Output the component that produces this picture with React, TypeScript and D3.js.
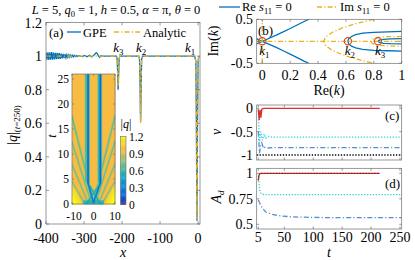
import React from "react";
import * as d3 from "d3";

const FONT = "'Liberation Serif', 'Times New Roman', serif";
const BLUE = "#0072BD";
const ORANGE = "#EDB120";
const MARK = "#D95319";
const RED = "#d7302f";
const CYAN = "#35cfe3";
const STEEL = "#4f8fd6";
const AXC = "#6e6e6e";

// ---------- Panel (a): |q| at t = 250 ----------
const gpeOscStart = -400;
const gpeOscStep = 2.5;
const gpeOscValues = [1.021, 0.978, 1.023, 0.977, 1.022, 0.978, 1.024, 0.979, 1.021, 0.98, 1.02, 0.981, 1.019, 0.983, 1.017, 0.984, 1.015, 0.986, 1.013, 0.988, 1.011, 0.99, 1.009, 0.992, 1.007, 0.994, 1.006, 0.995, 1.005, 0.996, 1.004, 0.997, 1.003, 0.998, 1.002];
const gpeTailX = [-312, -305, -298, -292, -286, -280, -275, -271, -268, -265, -262, -259, -256, -250, -215, -213, -212, -211, -210.3, -209.5, -208.5, -207.5, -206, -156, -154, -152.8, -151.8, -151.2, -150.6, -149.6, -148.4, -146, -9, -6, -4.5, -3.5, -3, -2.5, -1.5, 0, 2];
const gpeTailY = [1.001, 0.997, 1.004, 0.996, 1.005, 0.995, 1.004, 1.012, 1.02, 1.015, 1.0, 0.993, 1.002, 1.0, 1.0, 0.985, 0.93, 0.85, 0.8, 0.85, 0.93, 0.985, 1.0, 1.0, 0.98, 0.86, 0.68, 0.61, 0.68, 0.86, 0.98, 1.0, 1.0, 0.97, 0.6, 0.15, 0.02, 0.15, 0.6, 0.97, 1.0];
const anaX = [-400, -215, -213, -212, -211, -210.3, -209.5, -208.5, -207.5, -206, -156, -154, -152.8, -151.8, -151.2, -150.6, -149.6, -148.4, -146, -9, -6, -4.5, -3.5, -3, -2.5, -1.5, 0, 2];
const anaY = [1, 1, 0.985, 0.94, 0.86, 0.82, 0.86, 0.94, 0.985, 1, 1, 0.98, 0.86, 0.68, 0.6, 0.68, 0.86, 0.98, 1, 1, 0.97, 0.6, 0.15, 0.03, 0.15, 0.6, 0.97, 1];
const aXTicks = [-400, -300, -200, -100, 0];
const aYTicks = [0, 0.2, 0.4, 0.6, 0.8, 1, 1.2];
const kNamesA = ["3", "2", "1"];
const kPosA = [-210, -150, -21];

// ---------- Inset heatmap ----------
const insetXTicks = [-10, 0, 10];
const insetTTicks = [0, 5, 10, 15, 20, 25];
const cbTicks = [0, 0.3, 0.6, 0.9, 1.2];
// ridges of the density: [x0, t0, x1, t1, |q| min, half width px]
const hmRays = [
  [-2.5, 4.2, -2.5, 26, 0.1, 1.3],
  [-3.45, 4.6, -3.45, 26, 0.55, 1.1],
  [3.2, 4.2, 3.2, 26, 0.1, 1.3],
  [2.4, 4.6, 2.4, 26, 0.55, 1.1],
  [0, 0.4, -2.5, 4.2, 0.2, 1.2],
  [0, 0.4, 3.2, 4.2, 0.2, 1.2],
  [-3.4, 0, 3.2, 4.2, 0.45, 1.0],
  [3.4, 0, -2.5, 4.2, 0.45, 1.0],
  [0.2, 0, -10, 17.6, 0.66, 1.0],
  [-0.8, 0, -10, 12.5, 0.68, 0.9],
  [-2.2, 0, -10, 8, 0.7, 0.9],
  [-3.8, 0, -10, 4.5, 0.72, 0.9],
  [-0.2, 0, 10, 17.6, 0.66, 1.0],
  [0.8, 0, 10, 12.5, 0.68, 0.9],
  [2.2, 0, 10, 8, 0.7, 0.9],
  [3.8, 0, 10, 4.5, 0.72, 0.9],
];
const parulaStops = [
  [0, "#352a87"], [0.125, "#0f5cdd"], [0.25, "#1481d6"], [0.375, "#06a4ca"],
  [0.5, "#2eb7a4"], [0.625, "#87bf77"], [0.75, "#d1bb59"], [0.82, "#fbbb3d"],
  [0.89, "#f7cf2f"], [0.95, "#f3e324"], [1, "#f9fb0e"],
];

// ---------- Panel (b): spectrum ----------
const bXTicks = [0, 0.2, 0.4, 0.6, 0.8, 1];
const bYTicks = [-0.5, 0, 0.5];
const blueK1Re = [0, 0.05, 0.1, 0.15, 0.2, 0.25, 0.3, 0.34];
const blueK1Im = [0, 0.07, 0.14, 0.215, 0.29, 0.37, 0.45, 0.51];
const blueK1LeftRe = [-0.045, 0];
const blueK1LeftIm = [0.065, 0];
const blueK2Re = [0.614, 0.62, 0.64, 0.67, 0.72, 0.8, 0.9, 1.0];
const blueK2Im = [0, 0.06, 0.11, 0.15, 0.185, 0.205, 0.215, 0.225];
const blueK3Re = [0.83, 0.84, 0.87, 0.92, 1.0];
const blueK3Im = [0, 0.025, 0.045, 0.055, 0.06];
const orParRe = [0.8, 0.67, 0.57, 0.5, 0.455, 0.44, 0.455, 0.5, 0.57, 0.67, 0.8];
const orParIm = [0.5, 0.4, 0.3, 0.2, 0.1, 0, -0.1, -0.2, -0.3, -0.4, -0.5];
const orLoopRe = [1.0, 0.9, 0.83, 0.8, 0.785, 0.78, 0.785, 0.8, 0.83, 0.9, 1.0];
const orLoopIm = [0.11, 0.105, 0.09, 0.065, 0.035, 0, -0.035, -0.065, -0.09, -0.105, -0.11];
const kRe = [0, 0.614, 0.83];
const kNamesB = ["1", "2", "3"];

// ---------- Panels (c), (d) ----------
const tTicks = [5, 50, 100, 150, 200, 250];
const cYTicks = [-1, -0.5, 0];
const dYTicks = [0.5, 0.75, 1];
const vRedT = [5, 6.5, 8, 9.5, 11, 14, 215];
const vRedV = [-0.02, -0.25, -0.03, -0.2, -0.02, 0, 0];
const vCyanT = [5, 7, 9, 12, 15, 18, 22, 30, 40, 253];
const vCyanV = [-0.05, -0.75, -0.5, -0.68, -0.55, -0.64, -0.6, -0.62, -0.615, -0.615];
const vBlueT = [5, 7, 9, 11, 14, 17, 22, 30, 253];
const vBlueV = [-0.5, -0.96, -0.8, -0.74, -0.86, -0.83, -0.85, -0.84, -0.84];
const vBlackT = [2.2, 253];
const vBlackV = [-1, -1];
const aRedT = [5, 6, 8, 215];
const aRedA = [0.93, 0.98, 1, 1];
const aCyanT = [5, 6, 7, 8, 10, 12, 15, 20, 253];
const aCyanA = [0.98, 0.92, 0.86, 0.82, 0.8, 0.795, 0.792, 0.79, 0.79];
const aBlueT = [5, 8, 12, 18, 28, 40, 58, 80, 120, 253];
const aBlueA = [0.74, 0.7, 0.66, 0.62, 0.598, 0.585, 0.575, 0.57, 0.566, 0.565];

const parulaScale = d3
  .scaleLinear<string>()
  .domain(parulaStops.map((s) => s[0] as number))
  .range(parulaStops.map((s) => s[1] as string))
  .interpolate(d3.interpolateRgb)
  .clamp(true);
const parula = (v: number) => parulaScale(v / 1.2);

function zip(a: number[], b: number[]) {
  return a.map((v, i) => [v, b[i]] as [number, number]);
}

function Frame({ x, y, xt, yt, tl = 2.5 }: any) {
  const [L, R] = x.range();
  const [B, T] = y.range();
  return (
    <g stroke={AXC} strokeWidth={0.7} fill="none">
      <rect x={L} y={T} width={R - L} height={B - T} />
      {xt.map((v: number) => (
        <g key={"x" + v}>
          <line x1={x(v)} x2={x(v)} y1={B} y2={B - tl} />
          <line x1={x(v)} x2={x(v)} y1={T} y2={T + tl} />
        </g>
      ))}
      {yt.map((v: number) => (
        <g key={"y" + v}>
          <line x1={L} x2={L + tl} y1={y(v)} y2={y(v)} />
          <line x1={R} x2={R - tl} y1={y(v)} y2={y(v)} />
        </g>
      ))}
    </g>
  );
}

const fmt = (v: number) => String(v);

function K({ x, y, n, size = 13 }: any) {
  return (
    <text x={x} y={y} textAnchor="middle" fontSize={size} fill="#000">
      <tspan fontStyle="italic">k</tspan>
      <tspan dy={3} fontSize={size * 0.68}>{n}</tspan>
    </text>
  );
}

export default function App() {
  // panel (a)
  const ax = d3.scaleLinear().domain([-400, 5]).range([46, 200]);
  const ay = d3.scaleLinear().domain([0, 1.2]).range([224, 22.5]);
  const gpeX = gpeOscValues.map((_, i) => gpeOscStart + i * gpeOscStep).concat(gpeTailX);
  const gpeY = gpeOscValues.concat(gpeTailY);
  const lineA = d3.line<[number, number]>().x((d) => ax(d[0])).y((d) => ay(d[1]));

  // inset
  const hx = d3.scaleLinear().domain([-10, 10]).range([72, 115]);
  const ht = d3.scaleLinear().domain([0, 26]).range([204, 74]);
  const NX = 86, NT = 130;
  const pxX = 43 / 20, pxT = 130 / 26;
  const field = (x: number, t: number) => {
    let base = 0.98;
    const axb = Math.abs(x);
    if (t < 0.8 && axb < 5) base = 0.6;
    if (axb > 5 && t < (axb - 5) * 0.9) base = Math.min(1.2, 1.08 + 0.04 * ((axb - 5) * 0.9 - t));
    let v = base;
    for (const r of hmRays) {
      const [x0, t0, x1, t1, m, w] = r;
      const X0 = x0 * pxX, T0 = t0 * pxT, X1 = x1 * pxX, T1 = t1 * pxT;
      const px = x * pxX, pt = t * pxT;
      const dx = X1 - X0, dt = T1 - T0;
      let s = ((px - X0) * dx + (pt - T0) * dt) / (dx * dx + dt * dt);
      s = Math.max(0, Math.min(1, s));
      const d = Math.hypot(px - (X0 + s * dx), pt - (T0 + s * dt));
      const val = base - (base - m) * Math.exp(-(d / w) * (d / w));
      if (val < v) v = val;
    }
    return v;
  };
  const cells: any[] = [];
  for (let i = 0; i < NX; i++) {
    const xa = -10 + (i * 20) / NX, xb = -10 + ((i + 1) * 20) / NX;
    for (let j = 0; j < NT; j++) {
      const ta = (j * 26) / NT, tb = ((j + 1) * 26) / NT;
      cells.push({ xa, xb, ta, tb, v: field((xa + xb) / 2, (ta + tb) / 2) });
    }
  }
  const cbY = d3.scaleLinear().domain([0, 1.2]).range([204.5, 136.5]);
  const cbSteps = d3.range(0, 1.2, 0.02);

  // panel (b)
  const bx = d3.scaleLinear().domain([-0.04, 1]).range([256.7, 401.7]);
  const by = d3.scaleLinear().domain([-0.5, 0.5]).range([63.3, 19.3]);
  const lineB = d3.line<[number, number]>().x((d) => bx(d[0])).y((d) => by(d[1]));
  const neg = (a: number[]) => a.map((v) => -v);

  // panels (c),(d)
  const tx = d3.scaleLinear().domain([2.2, 253]).range([256.7, 401.7]);
  const cy = d3.scaleLinear().domain([-1.107, 0.071]).range([160, 105]);
  const dy = d3.scaleLinear().domain([0.454, 1.049]).range([229, 168.3]);
  const lineC = d3.line<[number, number]>().x((d) => tx(d[0])).y((d) => cy(d[1]));
  const lineD = d3.line<[number, number]>().x((d) => tx(d[0])).y((d) => dy(d[1]));

  const DASHDOT = "5,2.2,1.2,2.2";
  const DOT = "1.3,1.6";

  return (
    <svg width={415} height={260} style={{ position: "absolute", left: 0, top: 0, background: "#fff" }} fontFamily={FONT}>
      <defs>
        <clipPath id="ca"><rect x={46} y={22.5} width={154} height={201.5} /></clipPath>
        <clipPath id="cb"><rect x={256.7} y={19.3} width={145} height={44} /></clipPath>
        <clipPath id="cc"><rect x={256.7} y={105} width={145} height={55} /></clipPath>
        <clipPath id="cd"><rect x={256.7} y={168.3} width={145} height={60.7} /></clipPath>
      </defs>

      {/* Title */}
      <text x={116} y={14} textAnchor="middle" fontSize={12.5}>
        <tspan fontStyle="italic">L</tspan> = 5, <tspan fontStyle="italic">q</tspan>
        <tspan dy={3} fontSize={8.5}>0</tspan>
        <tspan dy={-3}> = 1, </tspan>
        <tspan fontStyle="italic">h</tspan> = 0.5, <tspan fontStyle="italic">α</tspan> = π, <tspan fontStyle="italic">θ</tspan> = 0
      </text>

      {/* ===== Panel (a) ===== */}
      <g clipPath="url(#ca)">
        <path d={lineA(zip(gpeX, gpeY)) || ""} fill="none" stroke={BLUE} strokeWidth={1.3} />
        <path d={lineA(zip(anaX, anaY)) || ""} fill="none" stroke={ORANGE} strokeWidth={1.3} strokeDasharray={DASHDOT} />
      </g>
      <Frame x={ax} y={ay} xt={aXTicks} yt={aYTicks} tl={3} />
      {aXTicks.map((v) => (
        <text key={v} x={ax(v)} y={243} textAnchor="middle" fontSize={14}>{fmt(v)}</text>
      ))}
      {aYTicks.map((v) => (
        <text key={v} x={42} y={ay(v) + 5} textAnchor="end" fontSize={14}>{fmt(v)}</text>
      ))}
      <text x={123} y={257} textAnchor="middle" fontSize={14} fontStyle="italic">x</text>
      <text transform="translate(17,125) rotate(-90)" textAnchor="middle" fontSize={14}>
        |<tspan fontStyle="italic">q</tspan>|<tspan dy={3} fontSize={9}>(<tspan fontStyle="italic">t</tspan>=250)</tspan>
      </text>
      <text x={49} y={37} fontSize={13}>(a)</text>
      <line x1={67} x2={81} y1={32} y2={32} stroke={BLUE} strokeWidth={1.3} />
      <text x={83} y={36.5} fontSize={12.5}>GPE</text>
      <line x1={114} x2={141} y1={32} y2={32} stroke={ORANGE} strokeWidth={1.3} strokeDasharray={DASHDOT} />
      <text x={143} y={36.5} fontSize={12.5}>Analytic</text>
      {kPosA.map((v, i) => (
        <K key={i} x={ax(v)} y={52} n={kNamesA[i]} />
      ))}

      {/* ===== Inset ===== */}
      <g>
        {cells.map((c, i) => (
          <rect key={i} x={hx(c.xa)} y={ht(c.tb)} width={hx(c.xb) - hx(c.xa) + 0.35} height={ht(c.ta) - ht(c.tb) + 0.35} fill={parula(c.v)} />
        ))}
      </g>
      <Frame x={hx} y={ht} xt={insetXTicks} yt={insetTTicks} tl={1.8} />
      {insetTTicks.map((v) => (
        <text key={v} x={69} y={ht(v) + 3.5} textAnchor="end" fontSize={11.5}>{fmt(v)}</text>
      ))}
      {insetXTicks.map((v) => (
        <text key={v} x={hx(v) + (v < 0 ? 2 : 0)} y={220} textAnchor="middle" fontSize={11.5}>{fmt(v)}</text>
      ))}
      <text transform="translate(56,136) rotate(-90)" textAnchor="middle" fontSize={12} fontStyle="italic">t</text>
      {cbSteps.map((v, i) => (
        <rect key={i} x={120.5} y={cbY(v + 0.02)} width={5.5} height={cbY(v) - cbY(v + 0.02) + 0.3} fill={parula(v + 0.01)} />
      ))}
      <rect x={120.5} y={136.5} width={5.5} height={68} fill="none" stroke={AXC} strokeWidth={0.6} />
      {cbTicks.map((v) => (
        <text key={v} x={129} y={cbY(v) + 4} fontSize={11.5}>{fmt(v)}</text>
      ))}
      <text x={126} y={128} textAnchor="middle" fontSize={12}>
        |<tspan fontStyle="italic">q</tspan>|
      </text>

      {/* ===== Panel (b) ===== */}
      <line x1={219} x2={240} y1={7} y2={7} stroke={BLUE} strokeWidth={1.3} />
      <text x={242} y={11} fontSize={12.5}>
        Re <tspan fontStyle="italic">s</tspan><tspan dy={3} fontSize={8.5}>11</tspan><tspan dy={-3}> = 0</tspan>
      </text>
      <line x1={317} x2={338} y1={7} y2={7} stroke={ORANGE} strokeWidth={1.3} strokeDasharray={DASHDOT} />
      <text x={340} y={11} fontSize={12.5}>
        Im <tspan fontStyle="italic">s</tspan><tspan dy={3} fontSize={8.5}>11</tspan><tspan dy={-3}> = 0</tspan>
      </text>
      <g clipPath="url(#cb)" fill="none" strokeWidth={1.3}>
        <path d={lineB(zip(blueK1Re, blueK1Im)) || ""} stroke={BLUE} />
        <path d={lineB(zip(blueK1Re, neg(blueK1Im))) || ""} stroke={BLUE} />
        <path d={lineB(zip(blueK1LeftRe, blueK1LeftIm)) || ""} stroke={BLUE} />
        <path d={lineB(zip(blueK1LeftRe, neg(blueK1LeftIm))) || ""} stroke={BLUE} />
        <path d={lineB(zip(blueK2Re, blueK2Im)) || ""} stroke={BLUE} />
        <path d={lineB(zip(blueK2Re, neg(blueK2Im))) || ""} stroke={BLUE} />
        <path d={lineB(zip(blueK3Re, blueK3Im)) || ""} stroke={BLUE} />
        <path d={lineB(zip(blueK3Re, neg(blueK3Im))) || ""} stroke={BLUE} />
        <path d={lineB([[-0.04, 0], [1, 0]]) || ""} stroke={ORANGE} strokeDasharray={DASHDOT} />
        <path d={lineB([[0, -0.5], [0, 0.5]]) || ""} stroke={ORANGE} strokeDasharray={DASHDOT} />
        <path d={lineB(zip(orParRe, orParIm)) || ""} stroke={ORANGE} strokeDasharray={DASHDOT} />
        <path d={lineB(zip(orLoopRe, orLoopIm)) || ""} stroke={ORANGE} strokeDasharray={DASHDOT} />
        {kRe.map((v, i) => (
          <circle key={i} cx={bx(v)} cy={by(0)} r={3.6} stroke={MARK} strokeWidth={1.2} />
        ))}
      </g>
      <Frame x={bx} y={by} xt={bXTicks} yt={bYTicks} tl={2.5} />
      {bXTicks.map((v) => (
        <text key={v} x={bx(v)} y={80} textAnchor="middle" fontSize={14}>{fmt(v)}</text>
      ))}
      {bYTicks.map((v) => (
        <text key={v} x={253} y={by(v) + 5} textAnchor="end" fontSize={14}>{fmt(v)}</text>
      ))}
      <text x={329} y={95} textAnchor="middle" fontSize={14}>
        Re(<tspan fontStyle="italic">k</tspan>)
      </text>
      <text transform="translate(218,41) rotate(-90)" textAnchor="middle" fontSize={14}>
        Im(<tspan fontStyle="italic">k</tspan>)
      </text>
      <text x={258} y={35} fontSize={13}>(b)</text>
      {kRe.map((v, i) => (
        <K key={i} x={bx(v) + 2} y={55} n={kNamesB[i]} />
      ))}

      {/* ===== Panel (c) ===== */}
      <g clipPath="url(#cc)" fill="none" strokeWidth={1.3}>
        <path d={lineC(zip(vBlackT, vBlackV)) || ""} stroke="#000" strokeDasharray={DOT} />
        <path d={lineC(zip(vBlueT, vBlueV)) || ""} stroke={STEEL} strokeDasharray={DASHDOT} />
        <path d={lineC(zip(vCyanT, vCyanV)) || ""} stroke={CYAN} strokeDasharray={DOT} />
        <path d={lineC(zip(vRedT, vRedV)) || ""} stroke={RED} />
      </g>
      <Frame x={tx} y={cy} xt={tTicks} yt={cYTicks} tl={2.5} />
      {cYTicks.map((v) => (
        <text key={v} x={253} y={cy(v) + 5} textAnchor="end" fontSize={14}>{fmt(v)}</text>
      ))}
      <text transform="translate(221,132) rotate(-90)" textAnchor="middle" fontSize={14} fontStyle="italic">v</text>
      <text x={385} y={120} fontSize={13}>(c)</text>

      {/* ===== Panel (d) ===== */}
      <g clipPath="url(#cd)" fill="none" strokeWidth={1.3}>
        <path d={lineD(zip(aBlueT, aBlueA)) || ""} stroke={STEEL} strokeDasharray={DASHDOT} />
        <path d={lineD(zip(aCyanT, aCyanA)) || ""} stroke={CYAN} strokeDasharray={DOT} />
        <path d={lineD(zip(aRedT, aRedA)) || ""} stroke={RED} />
        <path d={lineD(zip(aRedT, aRedA)) || ""} stroke="#000" strokeOpacity={0.45} strokeDasharray={DOT} />
      </g>
      <Frame x={tx} y={dy} xt={tTicks} yt={dYTicks} tl={2.5} />
      {dYTicks.map((v) => (
        <text key={v} x={253} y={dy(v) + 5} textAnchor="end" fontSize={14}>{fmt(v)}</text>
      ))}
      {tTicks.map((v) => (
        <text key={v} x={tx(v)} y={242} textAnchor="middle" fontSize={14}>{fmt(v)}</text>
      ))}
      <text x={329} y={257} textAnchor="middle" fontSize={14} fontStyle="italic">t</text>
      <text transform="translate(221,197) rotate(-90)" textAnchor="middle" fontSize={14}>
        <tspan fontStyle="italic">A</tspan><tspan dy={3} fontSize={9} fontStyle="italic">d</tspan>
      </text>
      <text x={385} y={188} fontSize={13}>(d)</text>
    </svg>
  );
}
